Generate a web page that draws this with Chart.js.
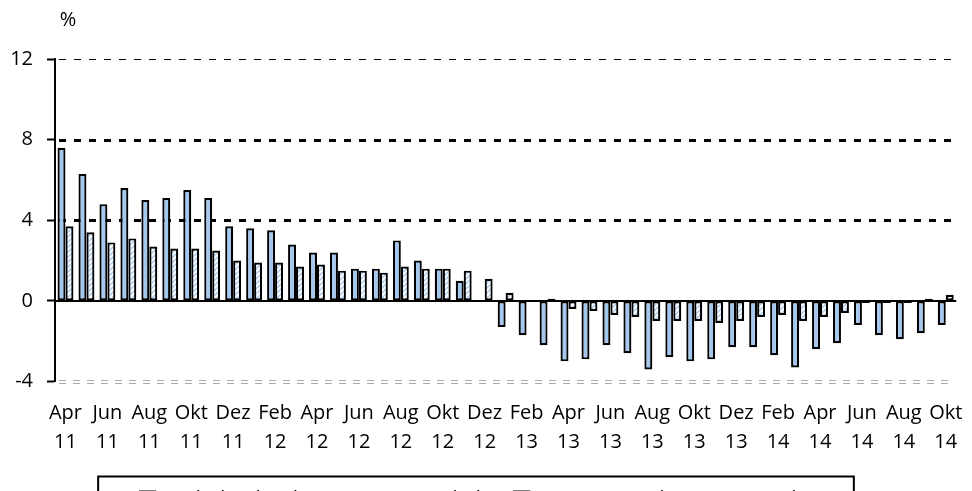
<!DOCTYPE html>
<html>
<head>
<meta charset="utf-8">
<script src="https://cdn.jsdelivr.net/npm/chart.js@4.4.1/dist/chart.umd.min.js"></script>
<style>
  html, body { margin: 0; padding: 0; background: #fff; overflow: hidden; }
  #wrap { width: 972px; height: 519px; }
</style>
</head>
<body>
<div id="wrap"><canvas id="barChart" width="972" height="519"></canvas></div>
<script>
const months = [
  'Apr 11', 'Mai 11', 'Jun 11', 'Jul 11', 'Aug 11', 'Sep 11', 'Okt 11', 'Nov 11', 'Dez 11',
  'Jan 12', 'Feb 12', 'Mär 12', 'Apr 12', 'Mai 12', 'Jun 12', 'Jul 12', 'Aug 12', 'Sep 12', 'Okt 12', 'Nov 12', 'Dez 12',
  'Jan 13', 'Feb 13', 'Mär 13', 'Apr 13', 'Mai 13', 'Jun 13', 'Jul 13', 'Aug 13', 'Sep 13', 'Okt 13', 'Nov 13', 'Dez 13',
  'Jan 14', 'Feb 14', 'Mär 14', 'Apr 14', 'Mai 14', 'Jun 14', 'Jul 14', 'Aug 14', 'Sep 14', 'Okt 14'
];

const seriesNames = ['Wohnbaukredite privater Haushalte', 'Konsum- und sonstige Kredite'];

const series1 = [7.6, 6.3, 4.8, 5.6, 5.0, 5.1, 5.5, 5.1, 3.7, 3.6, 3.5, 2.8, 2.4, 2.4, 1.6, 1.6, 3.0, 2.0, 1.6, 1.0, 0,
  -1.3, -1.7, -2.2, -3.0, -2.9, -2.2, -2.6, -3.4, -2.8, -3.0, -2.9, -2.3, -2.3, -2.7, -3.3, -2.4, -2.1, -1.2, -1.7, -1.9, -1.6, -1.2];

const series2 = [3.7, 3.4, 2.9, 3.1, 2.7, 2.6, 2.6, 2.5, 2.0, 1.9, 1.9, 1.7, 1.8, 1.5, 1.5, 1.4, 1.7, 1.6, 1.6, 1.5, 1.1,
  0.4, 0, 0.1, -0.4, -0.5, -0.7, -0.8, -1.0, -1.0, -1.0, -1.1, -1.0, -0.8, -0.7, -1.0, -0.8, -0.6, -0.1, -0.1, -0.1, 0.1, 0.3];

const yTicks = [-4, 0, 4, 8, 12];

const blue = 'rgb(164, 199, 238)';
const fontFamily = '"Open Sans", "Noto Sans", sans-serif';

// white tile with light blue diagonal stripes
function makeHatch() {
  const c = document.createElement('canvas');
  c.width = 5;
  c.height = 5;
  const g = c.getContext('2d');
  g.fillStyle = '#fff';
  g.fillRect(0, 0, 5, 5);
  g.strokeStyle = blue;
  g.lineWidth = 1.3;
  g.beginPath();
  g.moveTo(0, 5); g.lineTo(5, 0);
  g.moveTo(-1, 1); g.lineTo(1, -1);
  g.moveTo(4, 6); g.lineTo(6, 4);
  g.stroke();
  return g.createPattern(c, 'repeat');
}

// horizontal reference lines, one style per tick value
const lineStyles = {
  '12': { color: '#000', width: 1, dash: [7, 8] },
  '8': { color: '#000', width: 3, dash: [7, 8] },
  '4': { color: '#000', width: 3, dash: [7, 8] },
  '-4': { color: '#aaa', width: 1, dash: [7, 7], double: true },
};

const refLines = {
  id: 'refLines',
  beforeDatasetsDraw(chart) {
    const ctx = chart.ctx;
    const y = chart.scales.y;
    const { left, right } = chart.chartArea;
    ctx.save();
    yTicks.forEach(v => {
      const s = lineStyles[String(v)];
      if (!s) return;
      const py = Math.round(y.getPixelForValue(v)) + 0.5;
      ctx.strokeStyle = s.color;
      ctx.lineWidth = s.width;
      ctx.setLineDash(s.dash);
      const offs = s.double ? [-2, 1] : [0];
      offs.forEach(o => {
        ctx.beginPath();
        ctx.moveTo(left + 4, py + o);
        ctx.lineTo(right - 4, py + o);
        ctx.stroke();
      });
    });
    ctx.restore();
  },
  afterDatasetsDraw(chart) {
    const ctx = chart.ctx;
    const y = chart.scales.y;
    const { left, right } = chart.chartArea;
    const py = y.getPixelForValue(0);
    ctx.save();
    ctx.strokeStyle = '#000';
    ctx.lineWidth = 2;
    ctx.beginPath();
    ctx.moveTo(left, py);
    ctx.lineTo(right, py);
    ctx.stroke();
    ctx.restore();
  },
  afterDraw(chart) {
    const ctx = chart.ctx;
    const { left, top } = chart.chartArea;
    ctx.save();
    ctx.fillStyle = '#000';
    ctx.font = '20px ' + fontFamily;
    ctx.textAlign = 'center';
    ctx.textBaseline = 'middle';
    ctx.fillText('%', left + 13, top - 39);

    // frame round the legend
    const boxes = chart.legend.legendHitBoxes;
    if (boxes && boxes.length) {
      const l = Math.min(...boxes.map(b => b.left)) - 42;
      const r = Math.max(...boxes.map(b => b.left + b.width)) + 34;
      const t = Math.round(boxes[0].top - 13) + 0.5;
      ctx.strokeStyle = '#000';
      ctx.lineWidth = 2;
      ctx.strokeRect(l, t, r - l, 60);
    }
    ctx.restore();
  }
};

const ctx = document.getElementById('barChart').getContext('2d');
const hatch = makeHatch();

new Chart(ctx, {
  type: 'bar',
  data: {
    labels: months,
    datasets: [{
      label: seriesNames[0],
      data: series1,
      backgroundColor: blue,
      borderColor: '#000',
      borderWidth: 2.2,
      borderSkipped: false,
    }, {
      label: seriesNames[1],
      data: series2,
      backgroundColor: hatch,
      borderColor: '#000',
      borderWidth: 2.2,
      borderSkipped: false,
    }],
  },
  options: {
    responsive: false,
    animation: false,
    layout: {
      padding: { top: 59, right: 12, left: 0, bottom: 0 },
    },
    datasets: {
      bar: {
        categoryPercentage: 0.76,
        barPercentage: 1.0,
      },
    },
    scales: {
      x: {
        offset: true,
        grid: { display: false },
        border: { display: false },
        ticks: {
          autoSkip: false,
          maxRotation: 0,
          minRotation: 0,
          padding: 9.5,
          color: '#000',
          font: { family: fontFamily, size: 20, lineHeight: 1.45 },
          callback: (value, index) => index % 2 === 0 ? months[index].split(' ') : '',
        },
        afterFit: scale => { scale.height = 92.5; },
      },
      y: {
        min: -4,
        max: 12,
        afterBuildTicks: scale => { scale.ticks = yTicks.map(v => ({ value: v })); },
        grid: {
          drawOnChartArea: false,
          drawTicks: true,
          tickLength: 8,
          tickColor: '#000',
          tickWidth: 2,
        },
        border: { display: true, color: '#000', width: 2 },
        ticks: {
          padding: 14,
          color: '#000',
          font: { family: fontFamily, size: 20 },
        },
        afterFit: scale => { scale.width = 55; },
      },
    },
    plugins: {
      legend: {
        display: true,
        position: 'bottom',
        labels: {
          color: '#000',
          boxWidth: 15,
          boxHeight: 15,
          padding: 15,
          font: { family: fontFamily, size: 20 },
        },
      },
      tooltip: { enabled: false },
    },
  },
  plugins: [refLines],
});
</script>
</body>
</html>
